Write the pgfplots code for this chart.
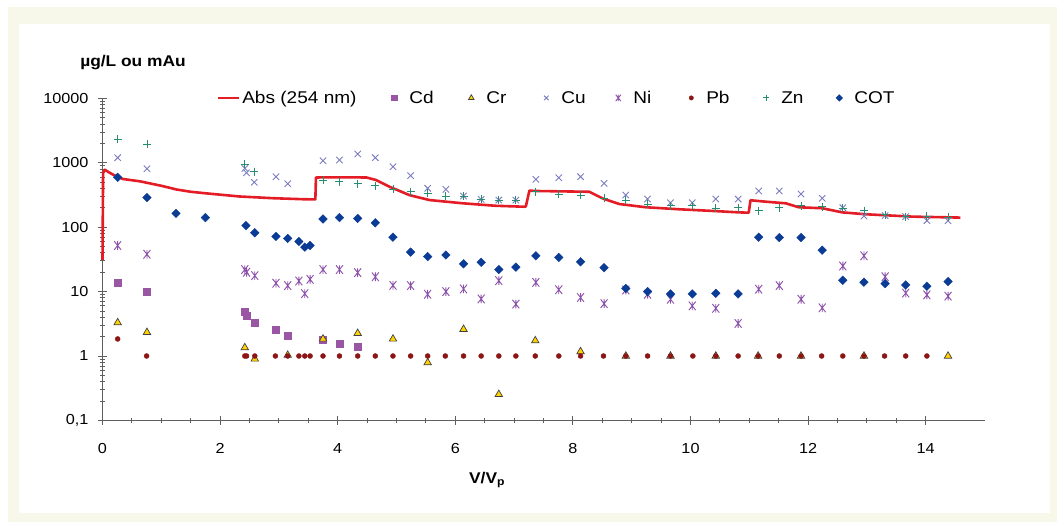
\documentclass[border=0pt]{standalone}
\usepackage{pgfplots}
\pgfplotsset{compat=1.18}
\usepackage{fontspec}
\setmainfont{Liberation Sans}[FakeStretch=1.12]
\definecolor{cream}{RGB}{247,247,234}
\definecolor{axisgray}{RGB}{95,95,95}
\definecolor{absred}{RGB}{228,28,38}
\definecolor{cdcol}{RGB}{155,85,165}
\definecolor{crcol}{RGB}{255,210,0}
\definecolor{cucol}{RGB}{125,125,195}
\definecolor{nicol}{RGB}{140,80,170}
\definecolor{pbcol}{RGB}{140,22,22}
\definecolor{zncol}{RGB}{40,140,110}
\definecolor{cotcol}{RGB}{10,60,150}
\pgfdeclareplotmark{xstar}{%
  \pgfpathmoveto{\pgfqpoint{-.8\pgfplotmarksize}{-\pgfplotmarksize}}%
  \pgfpathlineto{\pgfqpoint{.8\pgfplotmarksize}{\pgfplotmarksize}}%
  \pgfpathmoveto{\pgfqpoint{-.8\pgfplotmarksize}{\pgfplotmarksize}}%
  \pgfpathlineto{\pgfqpoint{.8\pgfplotmarksize}{-\pgfplotmarksize}}%
  \pgfpathmoveto{\pgfqpoint{0pt}{-\pgfplotmarksize}}%
  \pgfpathlineto{\pgfqpoint{0pt}{\pgfplotmarksize}}%
  \pgfusepathqstroke}
\pgfdeclareplotmark{sdiamond*}{%
  \pgfpathmoveto{\pgfqpoint{0pt}{\pgfplotmarksize}}%
  \pgfpathlineto{\pgfqpoint{\pgfplotmarksize}{0pt}}%
  \pgfpathlineto{\pgfqpoint{0pt}{-\pgfplotmarksize}}%
  \pgfpathlineto{\pgfqpoint{-\pgfplotmarksize}{0pt}}%
  \pgfpathclose
  \pgfusepathqfillstroke}
\pgfplotsset{
  mylegmark/.style={legend image code/.code={\path[draw=none,fill=none] (-7pt,-6pt) rectangle (15pt,6pt);
      \draw[##1, only marks, mark size=#1] plot coordinates {(0pt,0pt)};}},
  mylegline/.style={legend image code/.code={\draw[##1] (0pt,0pt) -- (21pt,0pt);
      \path[draw=none,fill=none] (0pt,-6pt) rectangle (24pt,6pt);}},
}
\begin{document}
\begin{tikzpicture}
\useasboundingbox (0,0) rectangle (1057pt,-522pt);
\fill[white] (0,0) rectangle (1057pt,-522pt);
\fill[cream] (8pt,-7pt) rectangle (1057pt,-522pt);
\fill[white] (19pt,-24pt) rectangle (1050pt,-513pt);
\begin{axis}[
  at={(102.5pt,-420.4pt)}, anchor=south west,
  scale only axis, width=882pt, height=322pt,
  xmin=0, xmax=15, ymode=log, ymin=0.1, ymax=10000,
  axis x line*=bottom, axis y line*=left,
  axis line style={-, draw=axisgray, line width=0.9pt},
  xtick={0,2,...,14}, minor x tick num=3,
  ytick={0.1,1,10,100,1000,10000},
  yticklabels={{0,1},1,10,100,1000,10000},
  tick align=center, major tick length=9pt, minor tick length=5pt,
  every tick/.style={axisgray, line width=0.9pt},
  tick label style={font=\fontsize{14.5}{17}\selectfont},
  /pgf/number format/assume math mode=true,
  xticklabel style={yshift=-15pt},
  yticklabel style={xshift=-6pt},
  xlabel={V/V\textsubscript{p}},
  xlabel style={at={(axis description cs:0.436,-0.185)}, anchor=center,
    font=\bfseries\fontsize{15.5}{18}\selectfont},
  clip=false,
  legend columns=-1,
  legend style={draw=none, fill=none, inner sep=0pt, outer sep=0pt,
    column sep=0pt, nodes={inner sep=0pt, outer sep=0pt},
    at={(axis description cs:0.1298,1.0015)}, anchor=west,
    font=\fontsize{17}{20}\selectfont},
]
\node[font=\bfseries\fontsize{15.5}{18}\selectfont] at (axis description cs:0.0346,1.110) {µg/L ou mAu};

\addplot[absred, line width=2.6pt, no markers, line join=round, mylegline]
coordinates {
(0,31) (0.01,700) (0.04,780) (0.1,720) (0.2,640) (0.35,560) (0.64,515)
(1.0,440) (1.26,385) (1.5,355) (1.77,335) (2.33,300) (2.90,282) (3.41,272)
(3.62,270) (3.63,590) (3.75,595) (4.49,592) (4.65,541) (4.88,425) (5.22,315)
(5.56,264) (6.13,235) (6.69,215) (7.17,208) (7.20,210) (7.26,370) (7.37,365)
(8.28,355) (8.50,281) (8.79,229) (9.24,204) (9.80,190) (10.37,179) (10.82,170)
(10.99,168) (11.02,262) (11.28,249) (11.62,235) (11.84,204) (12.24,197)
(12.58,170) (12.97,159) (13.77,146) (14.59,141)
};
\addlegendentry{\makebox[145pt][l]{Abs (254 nm)}}

\addplot[only marks, mark=square*, mark size=3.5pt, draw=none, mark options={fill=cdcol, draw=cdcol}, mylegmark=2.7pt]
coordinates {
(0.258,13.8) (0.756,9.9) (2.42,4.9) (2.45,4.2) (2.58,3.3) (2.95,2.6) (3.15,2.1)
(3.75,1.77) (4.03,1.53) (4.34,1.4)
};
\addlegendentry{\makebox[55pt][l]{Cd}}

\addplot[only marks, mark=triangle*, mark size=4.3pt, mark options={fill=crcol, draw=black!75, line width=0.7pt}, mylegmark=3.2pt]
coordinates {
(0.258,3.3) (0.756,2.33) (2.42,1.35) (2.59,0.9) (3.15,1.03) (3.75,1.84)
(4.34,2.25) (4.94,1.84) (5.53,0.79) (6.14,2.6) (6.74,0.254) (7.36,1.73)
(8.13,1.17) (8.90,1.0) (9.66,1.0) (10.43,1.0) (11.15,1.0) (11.88,1.0)
(12.95,1.0) (14.38,1.0)
};
\addlegendentry{\makebox[53pt][l]{Cr}}

\addplot[only marks, mark=x, mark size=4.5pt, mark options={draw=cucol, line width=0.9pt}, mylegmark=3.2pt]
coordinates {
(0.258,1200) (0.756,810) (2.42,820) (2.45,700) (2.58,498) (2.95,609) (3.15,474)
(3.75,1078) (4.03,1105) (4.34,1370) (4.64,1200) (4.94,871) (5.24,630)
(5.53,402) (5.84,387) (6.14,305) (6.44,271) (6.74,264) (7.03,264) (7.37,554)
(7.76,587) (8.13,609) (8.53,480) (8.90,316) (9.27,274) (9.66,240) (10.03,240)
(10.43,274) (10.81,274) (11.16,365) (11.51,365) (11.88,328) (12.24,281)
(12.59,201) (12.95,149) (13.31,151) (13.66,146) (14.02,126) (14.38,126)
};
\addlegendentry{\makebox[50pt][l]{Cu}}

\addplot[only marks, mark=xstar, mark size=4.3pt, mark options={draw=nicol, line width=0.9pt}, mylegmark=3.2pt]
coordinates {
(0.258,52) (0.756,38) (2.42,22) (2.45,20) (2.59,17.7) (2.95,13.5) (3.15,12.4)
(3.34,14.6) (3.44,9.3) (3.53,15.5) (3.75,22) (4.03,22) (4.34,19.7) (4.64,17)
(4.94,12.5) (5.24,12.4) (5.53,9.1) (5.84,10) (6.14,11) (6.44,7.7) (6.74,14.8)
(7.03,6.4) (7.37,13.9) (7.76,10.7) (8.13,8.1) (8.53,6.5) (8.90,10.6) (9.27,9.1)
(9.66,7.6) (10.03,6.0) (10.43,5.5) (10.81,3.2) (11.16,10.9) (11.51,12.4)
(11.88,7.6) (12.24,5.6) (12.59,25) (12.95,36) (13.31,17) (13.66,9.5)
(14.02,8.9) (14.38,8.5)
};
\addlegendentry{\makebox[51pt][l]{Ni}}

\addplot[only marks, mark=*, mark size=2.5pt, mark options={fill=pbcol, draw=pbcol}, mylegmark=2.2pt]
coordinates {
(0.258,1.84) (0.75,1) (2.42,1) (2.45,1) (2.59,1) (2.94,1) (3.15,1) (3.34,1)
(3.44,1) (3.53,1) (3.75,1) (4.03,1) (4.34,1) (4.64,1) (4.94,1) (5.24,1)
(5.53,1) (5.83,1) (6.14,1) (6.44,1) (6.74,1) (7.03,1) (7.36,1) (7.76,1)
(8.13,1) (8.52,1) (8.90,1) (9.27,1) (9.66,1) (10.04,1) (10.43,1) (10.81,1)
(11.15,1) (11.51,1) (11.88,1) (12.23,1) (12.59,1) (12.95,1) (13.30,1)
(13.66,1) (14.02,1)
};
\addlegendentry{\makebox[53pt][l]{Pb}}

\addplot[only marks, mark=+, mark size=4pt, mark options={draw=zncol, line width=0.9pt}, mylegmark=3.2pt]
coordinates {
(0.258,2340) (0.756,1960) (2.42,948) (2.58,728) (3.75,535) (4.03,509)
(4.34,474) (4.64,441) (4.94,387) (5.24,356) (5.53,336) (5.84,305) (6.14,305)
(6.44,271) (6.74,264) (7.03,264) (7.37,356) (7.76,328) (8.13,313) (8.53,281)
(8.90,264) (9.27,229) (9.66,214) (10.03,214) (10.43,196) (10.81,201)
(11.16,181) (11.51,201) (11.88,214) (12.24,208) (12.59,196) (12.95,181)
(13.31,155) (13.66,146) (14.02,149) (14.38,142)
};
\addlegendentry{\makebox[51pt][l]{Zn}}

\addplot[only marks, mark=sdiamond*, mark size=4.3pt, mark options={fill=cotcol, draw=cotcol}, mylegmark=3.3pt]
coordinates {
(0.258,595) (0.756,288) (1.25,164) (1.75,141) (2.44,106) (2.59,82) (2.95,72)
(3.15,67) (3.34,60) (3.44,49) (3.53,52) (3.75,134) (4.03,141) (4.34,137)
(4.64,117) (4.94,70) (5.24,41) (5.53,35) (5.84,37) (6.14,27) (6.44,28.5)
(6.74,22) (7.03,24) (7.37,36) (7.76,34) (8.13,29) (8.53,23.5) (8.90,11.2)
(9.27,10) (9.66,9.2) (10.03,9.2) (10.43,9.4) (10.81,9.2) (11.16,70)
(11.51,69) (11.88,69) (12.24,44) (12.59,15) (12.95,14) (13.31,13.3)
(13.66,12.7) (14.02,12.1) (14.38,14.3)
};
\addlegendentry{COT}
\end{axis}
\end{tikzpicture}
\end{document}
